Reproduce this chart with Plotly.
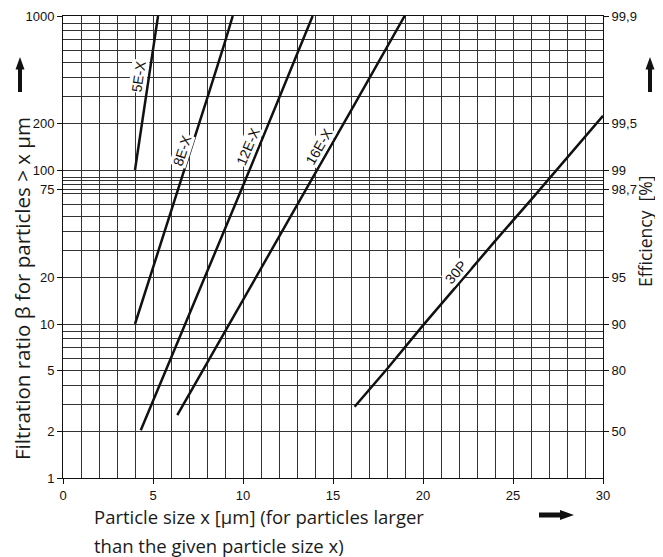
import plotly.graph_objects as go

# ---------------- data ----------------
x_5EX = [4.0, 4.5, 5.0, 5.28]
beta_5EX = [100, 245, 590, 1000]

x_8EX = [4.0, 5.0, 6.0, 7.0, 8.0, 9.0, 9.43]
beta_8EX = [10, 23, 54, 125, 290, 680, 1000]

x_12EX = [4.32, 6.0, 8.0, 10.0, 12.0, 13.87]
beta_12EX = [2.04, 6.0, 21.7, 79, 292, 1000]

x_16EX = [6.35, 8.0, 10.0, 12.0, 14.0, 16.0, 18.0, 18.98]
beta_16EX = [2.56, 5.6, 14.3, 36.8, 94.6, 243, 625, 1000]

x_30P = [16.2, 18.0, 20.0, 22.0, 24.0, 26.0, 28.0, 30.0]
beta_30P = [2.9, 5.1, 9.8, 18.5, 34.5, 64, 120, 225]

series_names = ["5E-X", "8E-X", "12E-X", "16E-X", "30P"]

x_ticks = [0, 5, 10, 15, 20, 25, 30]
beta_ticks = [1, 2, 5, 10, 20, 75, 100, 200, 1000]
beta_tick_text = ["1", "2", "5", "10", "20", "75", "100", "200", "1000"]
beta_minor_grid = [3, 4, 6, 7, 8, 9, 30, 40, 50, 60, 70, 80, 85, 90,
                   300, 400, 500, 600, 700, 800, 900]
eff_tick_vals = [2, 5, 10, 20, 75, 100, 200, 1000]
eff_tick_text = ["50", "80", "90", "95", "98,7", "99", "99,5", "99,9"]

# ---------------- styling / placement ----------------
OFF = 8                      # page body margin of the html page
W, H = 655, 549
# plot area in page pixels
PL, PR, PT, PB = 63, 603, 16, 478
L, R, T, B = PL - OFF, PR - OFF, PT - OFF, PB - OFF   # figure pixels
GRID = "#333333"
TICKFONT = dict(family="Liberation Sans, Arial, sans-serif", size=13, color="#111")
TITLEFONT = dict(family="Open Sans, sans-serif", size=18.5, color="#1a1a1a")

# label placement (x in data units, y in log10 units) and rotation
label_pos = {
    "5E-X": (4.22, 2.608, -81.5),
    "8E-X": (6.63, 2.130, -72),
    "12E-X": (10.29, 2.156, -67),
    "16E-X": (14.24, 2.156, -60),
    "30P": (21.83, 1.340, -49.5),
}


def P(px, py):
    """page pixel -> paper coordinates"""
    return ((px - PL) / (PR - PL), (PB - py) / (PB - PT))


def path(points):
    pts = [P(a, b) for a, b in points]
    return "M " + " L ".join(f"{a:.5f},{b:.5f}" for a, b in pts) + " Z"


fig = go.Figure()
series = [(x_5EX, beta_5EX), (x_8EX, beta_8EX), (x_12EX, beta_12EX),
          (x_16EX, beta_16EX), (x_30P, beta_30P)]
for name, (xs, ys) in zip(series_names, series):
    fig.add_trace(go.Scatter(x=xs, y=ys, mode="lines", name=name,
                             line=dict(color="#111111", width=2.5),
                             showlegend=False, hoverinfo="skip"))
# invisible trace to activate the right-hand efficiency axis
fig.add_trace(go.Scatter(x=[None], y=[None], yaxis="y2", showlegend=False,
                         hoverinfo="skip"))

annotations = []
for name in series_names:
    ax_, ay_, ang = label_pos[name]
    annotations.append(dict(x=ax_, y=ay_, xref="x", yref="y", text=name,
                            showarrow=False, textangle=ang,
                            font=dict(family="Liberation Sans, Arial, sans-serif",
                                      size=14, color="#111"),
                            bgcolor="white", borderpad=0))

lx, ly = P(22, 289)
annotations.append(dict(x=lx, y=ly, xref="paper", yref="paper",
                        text="Filtration ratio β for particles > x µm",
                        showarrow=False, textangle=-90,
                        font=dict(TITLEFONT, size=20.5),
                        xanchor="center", yanchor="middle"))
rx, ry = P(645, 232)
annotations.append(dict(x=rx, y=ry, xref="paper", yref="paper",
                        text="Efficiency  [%]",
                        showarrow=False, textangle=-90,
                        font=dict(TITLEFONT, size=17.5),
                        xanchor="center", yanchor="middle"))
t1x, t1y = P(92, 516)
annotations.append(dict(x=t1x, y=t1y, xref="paper", yref="paper",
                        text="Particle size x [µm] (for particles larger",
                        showarrow=False, font=TITLEFONT,
                        xanchor="left", yanchor="middle"))
t2x, t2y = P(92, 545)
annotations.append(dict(x=t2x, y=t2y, xref="paper", yref="paper",
                        text="than the given particle size x)",
                        showarrow=False, font=TITLEFONT,
                        xanchor="left", yanchor="middle"))


def up_arrow(cx, tip, bottom):
    return [(cx, tip), (cx + 4.5, tip + 12.5), (cx + 2, tip + 12.5),
            (cx + 2, bottom), (cx - 2, bottom), (cx - 2, tip + 12.5),
            (cx - 4.5, tip + 12.5)]


def right_arrow(cy, tail, tip):
    return [(tip, cy), (tip - 14, cy - 5), (tip - 14, cy - 2.5),
            (tail, cy - 2.5), (tail, cy + 2.5), (tip - 14, cy + 2.5),
            (tip - 14, cy + 5)]


shapes = []
for pts in [up_arrow(20, 57, 92), up_arrow(650, 57, 92), right_arrow(515, 539, 574)]:
    shapes.append(dict(type="path", xref="paper", yref="paper", path=path(pts),
                       fillcolor="#111", line=dict(width=0)))

fig.update_layout(
    template="none",
    width=W, height=H,
    margin=dict(l=L, r=W - R, t=T, b=H - B, pad=0, autoexpand=False),
    plot_bgcolor="white", paper_bgcolor="white",
    annotations=annotations, shapes=shapes,
    xaxis=dict(range=[0, 30], tickmode="array", tickvals=x_ticks,
               ticks="outside", ticklen=5, tickcolor="#111", tickwidth=1,
               tickfont=TICKFONT, showgrid=True, gridcolor=GRID, gridwidth=1,
               minor=dict(dtick=1, tick0=0, showgrid=True, gridcolor=GRID,
                          gridwidth=1, ticks=""),
               showline=True, linecolor="#111", linewidth=1, mirror=True,
               zeroline=False, automargin=False),
    yaxis=dict(type="log", range=[0, 3], tickmode="array", tickvals=beta_ticks,
               ticktext=beta_tick_text, ticks="outside", ticklen=5,
               tickcolor="#111", tickwidth=1, tickfont=TICKFONT,
               showgrid=True, gridcolor=GRID, gridwidth=1,
               minor=dict(tickmode="array", tickvals=beta_minor_grid,
                          showgrid=True, gridcolor=GRID, gridwidth=1, ticks=""),
               showline=True, linecolor="#111", linewidth=1, mirror=True,
               zeroline=False, automargin=False),
    yaxis2=dict(type="log", range=[0, 3], overlaying="y", side="right",
                tickmode="array", tickvals=eff_tick_vals, ticktext=eff_tick_text,
                ticks="outside", ticklen=5, tickcolor="#111", tickwidth=1,
                tickfont=TICKFONT, showgrid=False, showline=False,
                zeroline=False, automargin=False),
)

fig.write_html("out.html")
